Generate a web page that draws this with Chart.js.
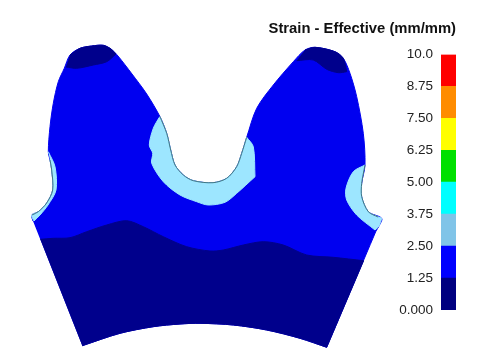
<!DOCTYPE html>
<html>
<head>
<meta charset="utf-8">
<script src="https://cdn.jsdelivr.net/npm/chart.js@4"></script>
<style>
    body { margin: 0; background: #fff; overflow: hidden; }
    canvas { position: absolute; }
    #gearChart { left: 0; top: 0; }
    #scaleChart { left: 260px; top: 15px; }
</style>
</head>
<body>
<canvas id="gearChart" width="484" height="362"></canvas>
<canvas id="scaleChart" width="224" height="311"></canvas>
<script>
// contour regions as [x, y] in plot units
const gearOutline = [
    [33,221],[33,221],[31.7,215],[38.3,211.7],[46.7,203],[52.7,190],[51.7,170],[50,160],[48.3,151.7],[50,126.7],[53.3,103.3],
    [58.3,81.7],[64.3,68.3],[70,55],[80,48.3],[91.7,46],[103.3,45.3],[111,49],[118,56],[132,74],[146.7,94],[160,116.7],
    [166.7,133.3],[170.7,150],[175,165],[183.3,175],[193.3,180.7],[213,182.7],[226.7,178.3],[236.7,166.7],[241.7,153.3],
    [246.7,137.3],[256.7,108.3],[273.3,85],[293.3,61.7],[305,50],[315,47.3],[335,51.7],[343.3,58.3],[350,73.3],
    [356.7,96.7],[363.3,133.3],[365,165],[361.7,183.3],[361.7,196.7],[368.3,211.7],[381.7,218.3],[379,226],[376,231],[376,231],
    [326.7,347.3],[326.7,347.3],[300,338.3],[266.7,330],[233.3,325],[200,323.3],[180,324],[153.3,326.7],[120,333.3],[82.3,345.7],[82.3,345.7]
];
const baseRegion = [
    [40.3,239.3],[40.3,239.3],[53.3,238.3],[70,237.7],[86.7,231.7],[106.7,225],[126.7,220.7],[143.3,226.7],[163.3,236.7],[186.7,246.7],
    [210,251],[223.3,250],[243.3,245],[263.3,241.7],[283.3,245],[306.7,255],[333.3,257.3],[363.6,260.7],[363.6,260.7],[326.7,347.3],[326.7,347.3],
    [300,338.3],[266.7,330],[233.3,325],[200,323.3],[180,324],[153.3,326.7],[120,333.3],[82.3,345.7],[82.3,345.7]
];
const leftTip = [
    [66,67],[66,67],[76.7,68.3],[93.3,65],[106.7,61.7],[116,54],[116,54],[111,49],[103.3,45.3],[91.7,46],[80,48.3],[70,55]
];
const rightTip = [
    [296.7,60.7],[296.7,60.7],[313.3,60],[326.7,69.3],[338.3,72.7],[346.7,71.7],[346.7,71.7],[343.3,58.3],[335,51.7],[315,47.3],[305,50]
];
const leftFlank = [
    [48.3,151.7],[48.3,151.7],[55,166.7],[56,190],[48,205],[40,215],[34,221],[34,221],[31.7,215],[38.3,211.7],[46.7,203],[52.7,190],[51.7,170],[50,160]
];
const centreBand = [
    [159.3,117.3],[159.3,117.3],[153.3,128.3],[149.3,145],[152.7,153.3],[151.7,163.3],[163.3,181.7],[180,195],[196.7,201.7],[208.3,205],
    [225,202.3],[236.7,193.3],[255,176.7],[255,176.7],[253.3,146.7],[246.7,137.3],[246.7,137.3],[241.7,153.3],[236.7,166.7],[226.7,178.3],[213,182.7],
    [193.3,180.7],[183.3,175],[175,165],[170.7,150],[166.7,133.3],[160,116.7]
];
const rightBand = [
    [365,165],[365,165],[353.3,171.7],[346,188.3],[346.7,200],[356.7,215],[375,230],[375,230],[379,226],[381.7,218.3],[381.7,218.3],[368.3,211.7],[361.7,196.7],[361.7,183.3]
];
const centreEdge = [
    [160,116.7],[166.7,133.3],[170.7,150],[175,165],[183.3,175],[193.3,180.7],[213,182.7],[226.7,178.3],[236.7,166.7],[241.7,153.3],[246.7,137.3]
];
const rightEdge = [[365,165],[361.7,183.3],[361.7,196.7],[368.3,211.7],[378,217]];
const leftEdge = [[50,160],[51.7,170],[52.7,190],[46.7,203],[38.3,211.7],[32,215]];

// colour scale
const scaleTitle = 'Strain - Effective (mm/mm)';
const scaleTicks = ['0.000', '1.25', '2.50', '3.75', '5.00', '6.25', '7.50', '8.75', '10.0'];
const scaleBands = [1.25, 1.25, 1.25, 1.25, 1.25, 1.25, 1.25, 1.25];
const scaleColors = ['#000080', '#0000ff', '#80c4e8', '#00ffff', '#00e000', '#ffff00', '#ff8c00', '#ff0000'];

const NAVY = '#00008c', BLUE = '#0000f0', LIGHT = '#9de6ff', EDGE = '#3f7480';

function region(points, color, order) {
    return {
        data: points.map(p => ({ x: p[0], y: p[1] })),
        showLine: true,
        fill: 'shape',
        backgroundColor: color,
        borderColor: color,
        borderWidth: 1,
        pointRadius: 0,
        tension: 0.3,
        order: order
    };
}

function edge(points, order) {
    return {
        data: points.map(p => ({ x: p[0], y: p[1] })),
        showLine: true,
        fill: false,
        borderColor: EDGE,
        borderWidth: 1,
        pointRadius: 0,
        tension: 0.3,
        order: order
    };
}

new Chart(document.getElementById('gearChart').getContext('2d'), {
    type: 'scatter',
    data: {
        datasets: [
            region(gearOutline, BLUE, 9),
            region(baseRegion, NAVY, 8),
            region(leftTip, NAVY, 7),
            region(rightTip, NAVY, 6),
            region(leftFlank, LIGHT, 5),
            region(centreBand, LIGHT, 4),
            region(rightBand, LIGHT, 3),
            edge(centreEdge, 2),
            edge(rightEdge, 1),
            edge(leftEdge, 0)
        ]
    },
    options: {
        responsive: false,
        animation: false,
        events: [],
        layout: { padding: { left: 0, right: 0, top: 0, bottom: 0 } },
        plugins: { legend: { display: false }, tooltip: { enabled: false } },
        scales: {
            x: { display: false, min: 0, max: 484 },
            y: { display: false, min: 0, max: 362, reverse: true }
        }
    }
});

new Chart(document.getElementById('scaleChart').getContext('2d'), {
    type: 'bar',
    data: {
        labels: [''],
        datasets: scaleBands.map((band, i) => ({
            data: [band],
            backgroundColor: scaleColors[i],
            barPercentage: 1,
            categoryPercentage: 1
        }))
    },
    options: {
        responsive: false,
        animation: false,
        events: [],
        layout: { padding: { left: 0, right: 28, top: 0, bottom: 0 } },
        plugins: {
            legend: { display: false },
            tooltip: { enabled: false },
            title: {
                display: true,
                text: scaleTitle,
                align: 'end',
                color: '#111',
                font: { family: '"Liberation Sans", Arial, sans-serif', size: 14.8, weight: 'bold' },
                padding: { top: 5.5, bottom: 16.2 }
            }
        },
        scales: {
            x: { stacked: true, display: false },
            y: {
                stacked: true,
                min: 0,
                max: 10,
                afterFit: scale => { scale.width = 181; },
                border: { display: false },
                grid: { display: false, drawTicks: false },
                ticks: {
                    stepSize: 1.25,
                    padding: 8,
                    color: '#222',
                    font: { family: '"Liberation Sans", Arial, sans-serif', size: 13.5 },
                    callback: (value, index) => scaleTicks[index]
                }
            }
        }
    }
});
</script>
</body>
</html>
